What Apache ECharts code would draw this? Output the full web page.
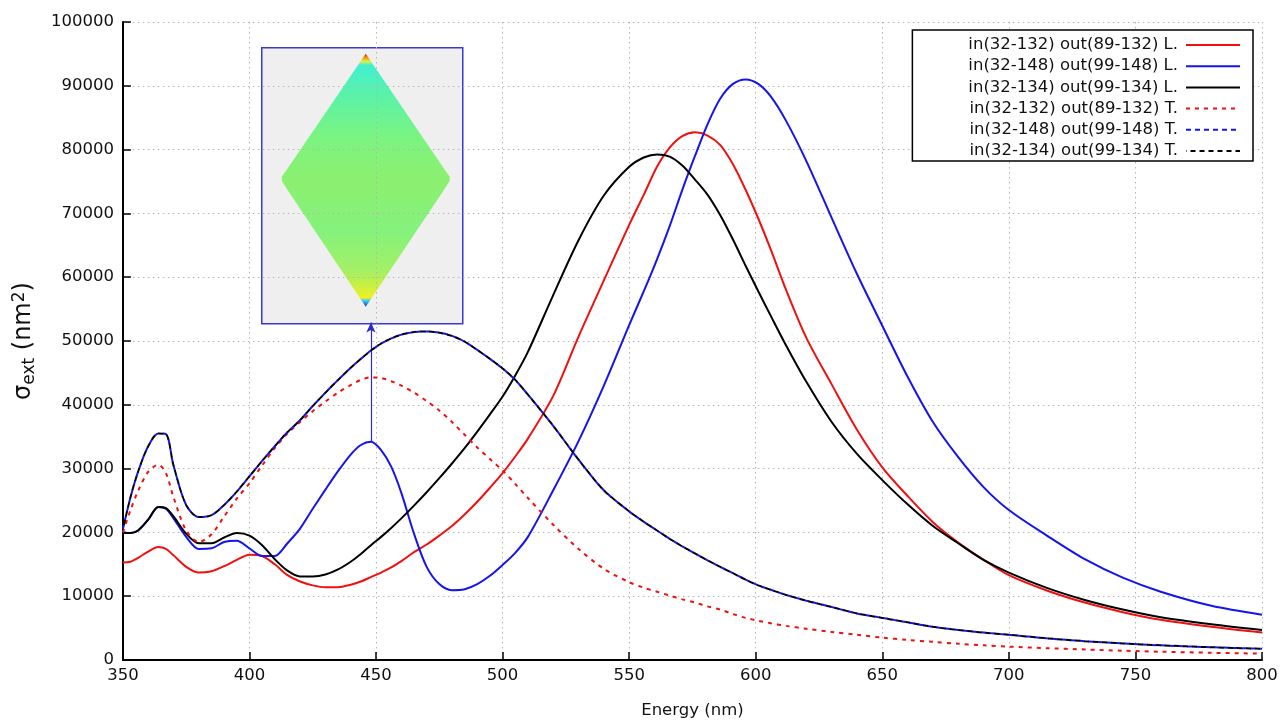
<!DOCTYPE html>
<html>
<head>
<meta charset="utf-8">
<title>Extinction cross-section spectra</title>
<script src="https://cdn.jsdelivr.net/npm/echarts@6/dist/echarts.min.js"></script>
<style>
  html, body { margin: 0; padding: 0; background: #fff; }
  #chart { width: 1281px; height: 724px; }
</style>
</head>
<body>
<div id="chart"></div>
<script>
// Wavelength grid (nm) shared by all spectra
const wavelength = [350,353,356,360,364,367,370,375,380,385,390,395,400,405,410,415,420,
  425,430,435,440,444,448,452,456,460,465,470,475,480,485,490,495,500,505,510,520,
  530,540,550,556,561,566,571,576,581,586,591,596,601,606,612,620,630,640,650,660,
  670,680,690,700,715,730,745,760,780,800];

// Longitudinal excitation, sigma_ext in nm^2
const longRed = [15300,15400,16000,17000,17700,17400,16400,14600,13700,13900,14700,15700,16500,16300,15000,13300,12300,
  11700,11400,11400,11800,12300,13000,13700,14500,15500,16900,18100,19500,21000,22800,24800,27000,29300,31900,34700,41400,
  50700,59500,68200,73100,77300,80300,82100,82700,82200,80700,77700,73700,69200,64300,58000,50500,43200,36100,30200,25700,
  21600,18400,15700,13300,10900,9000,7500,6300,5200,4300];
const longBlue = [20000,19900,20300,22000,24000,23700,22200,19300,17400,17500,18500,18700,17500,16300,16300,18300,20600,
  23700,26700,29600,32200,33700,34200,32900,30300,26200,19800,14600,11900,10950,11100,11900,13200,14900,16800,19300,26600,
  34300,43000,52500,58000,62800,68000,73700,79000,84000,88000,90300,91000,90300,88300,84500,78200,69300,60500,52400,44400,
  37300,31800,27100,23500,19500,15800,12900,10700,8500,7100];
const longBlack = [20000,19900,20300,22000,24000,23800,22500,19800,18300,18300,19200,19900,19500,18000,15800,14000,13100,
  13100,13400,14200,15400,16600,18000,19300,20700,22200,24200,26300,28500,30800,33200,35800,38500,41300,44600,48300,57200,
  65800,72800,77300,78800,79250,78900,77500,75300,72900,69700,65900,61800,57800,53900,49300,43600,37300,32300,28200,24400,
  21000,18300,15700,13700,11300,9400,7900,6700,5600,4700];

// Transverse excitation
const transRed = [20000,23500,26500,29500,30600,29300,25500,20300,18500,19700,22500,25300,27700,30500,33200,35500,37300,
  39000,40500,41900,43100,43900,44300,44200,43700,43000,41900,40600,39100,37300,35300,33300,31500,29700,27600,25400,21200,
  17400,14300,12200,11300,10700,10100,9500,9000,8400,7900,7200,6600,6150,5750,5350,4900,4400,3950,3500,3150,
  2850,2550,2300,2100,1850,1650,1450,1300,1130,1000];
const transBlue = [20500,25500,29500,33500,35500,35400,30500,24300,22400,22700,24300,26400,28800,31200,33500,35700,37600,
  39800,41900,43900,45800,47200,48500,49600,50400,51000,51400,51500,51300,50800,49900,48600,47200,45700,43900,41600,36700,
  31400,26600,23300,21600,20300,19000,17800,16700,15600,14600,13600,12600,11700,11000,10200,9300,8300,7300,6600,5900,
  5200,4700,4300,3950,3400,2950,2600,2300,2000,1770];
const transBlack = transBlue.slice();

const seriesNames = [
  'in(32-132) out(89-132) L.',
  'in(32-148) out(99-148) L.',
  'in(32-134) out(99-134) L.',
  'in(32-132) out(89-132) T.',
  'in(32-148) out(99-148) T.',
  'in(32-134) out(99-134) T.'
];
const xTicks = { min: 350, max: 800, step: 50 };
const yTicks = { min: 0, max: 100000, step: 10000 };

// Arrow from the blue longitudinal resonance up to the inset
const arrowFrom = [448, 34200];
const arrowTo = [448, 52900];

const FONT = 'DejaVu Sans';
const RED = '#f01010', BLUE = '#1414ee', BLACK = '#000000';

const pairs = (ys) => wavelength.map((x, i) => [x, ys[i]]);

function lineSeries(name, ys, color, type, extra) {
  return Object.assign({
    name: name,
    type: 'line',
    data: pairs(ys),
    showSymbol: false,
    symbol: 'none',
    smooth: 0.3,
    lineStyle: { color: color, width: 2, type: type },
    itemStyle: { color: color },
    emphasis: { disabled: true }
  }, extra || {});
}

const chart = echarts.init(document.getElementById('chart'), null, { renderer: 'canvas' });

const option = {
  animation: false,
  backgroundColor: '#ffffff',
  grid: { left: 122, right: 19, top: 22, bottom: 61, containLabel: false },
  legend: {
    orient: 'vertical',
    right: 28,
    top: 30,
    align: 'right',
    data: seriesNames,
    itemWidth: 54,
    itemHeight: 14,
    itemGap: 3.2,
    padding: [6, 12, 1, 56],
    borderColor: '#000',
    borderWidth: 1.5,
    backgroundColor: '#ffffff',
    itemStyle: { opacity: 0 },
    textStyle: { fontFamily: FONT, fontSize: 16.5, color: '#111', lineHeight: 18, padding: [0, 3, 0, 0] },
    selectedMode: false
  },
  xAxis: {
    type: 'value',
    min: xTicks.min, max: xTicks.max, interval: xTicks.step,
    name: 'Energy (nm)',
    nameLocation: 'middle',
    nameGap: 42,
    nameTextStyle: { fontFamily: FONT, fontSize: 16.5, color: '#111' },
    axisLine: { show: true, onZero: false, lineStyle: { color: '#000', width: 2 } },
    axisTick: { show: true, inside: true, length: 8, lineStyle: { color: '#000', width: 1.5 } },
    axisLabel: { fontFamily: FONT, fontSize: 16.5, color: '#111', margin: 7, formatter: v => String(v) },
    splitLine: { show: true, lineStyle: { color: '#b4b4b4', width: 1, type: [1.5, 3.5] } }
  },
  yAxis: {
    type: 'value',
    min: yTicks.min, max: yTicks.max, interval: yTicks.step,
    name: '{s|σ}{sub|ext}{s| (nm}{sup|2}{s|)}',
    nameLocation: 'middle',
    nameRotate: 90,
    nameGap: 74,
    nameTextStyle: {
      fontFamily: FONT, color: '#111',
      rich: {
        s: { fontFamily: FONT, fontSize: 24, color: '#111', lineHeight: 32, verticalAlign: 'middle' },
        sub: { fontFamily: FONT, fontSize: 17, color: '#111', lineHeight: 32, verticalAlign: 'bottom', padding: [0, 0, 2, 0] },
        sup: { fontFamily: FONT, fontSize: 17, color: '#111', lineHeight: 32, verticalAlign: 'top', padding: [3, 0, 0, 0] }
      }
    },
    axisLine: { show: true, onZero: false, lineStyle: { color: '#000', width: 2 } },
    axisTick: { show: true, inside: true, length: 8, lineStyle: { color: '#000', width: 1.5 } },
    axisLabel: { fontFamily: FONT, fontSize: 16.5, color: '#111', margin: 9, formatter: v => String(v) },
    splitLine: { show: true, lineStyle: { color: '#b4b4b4', width: 1, type: [1.5, 3.5] } }
  },
  series: [
    lineSeries(seriesNames[0], longRed, RED, 'solid', { z: 3 }),
    lineSeries(seriesNames[1], longBlue, BLUE, 'solid', {
      z: 4,
      markLine: {
        silent: true,
        symbol: ['none', 'arrow'],
        symbolSize: [7, 10],
        label: { show: false },
        itemStyle: { color: '#2a2ad0' },
        lineStyle: { color: '#2a2ad0', width: 1.2, type: 'solid', opacity: 1 },
        data: [[{ coord: arrowFrom }, { coord: arrowTo }]]
      }
    }),
    lineSeries(seriesNames[2], longBlack, BLACK, 'solid', { z: 5 }),
    lineSeries(seriesNames[3], transRed, RED, [4, 5], { z: 6 }),
    lineSeries(seriesNames[4], transBlue, BLUE, [5, 4], { z: 7 }),
    lineSeries(seriesNames[5], transBlack, BLACK, [5, 4], { z: 8, lineStyle: { color: BLACK, width: 2, type: [5, 4], dashOffset: 4.5 } })
  ],
  graphic: [
    {
      // Inset: field map of the rhombic particle
      type: 'group',
      left: 261, top: 47,
      z: 100,
      children: [
        {
          type: 'rect',
          shape: { x: 0, y: 0, width: 201, height: 276 },
          style: { fill: '#efefef', stroke: '#3a3acc', lineWidth: 1.5 }
        },
        {
          type: 'polygon',
          shape: {
            points: [[104, 6], [183, 122], [188, 129], [188, 133], [183, 141], [104, 259],
                     [25, 141], [20, 133], [20, 129], [25, 122]]
          },
          style: {
            fill: new echarts.graphic.LinearGradient(0, 0, 0, 1, [
              { offset: 0.0, color: '#b01000' },
              { offset: 0.012, color: '#f08000' },
              { offset: 0.03, color: '#e0f040' },
              { offset: 0.045, color: '#40f0d0' },
              { offset: 0.15, color: '#58f2ac' },
              { offset: 0.33, color: '#7af480' },
              { offset: 0.5, color: '#8cf070' },
              { offset: 0.7, color: '#84f27c' },
              { offset: 0.86, color: '#a4f064' },
              { offset: 0.94, color: '#daf034' },
              { offset: 0.965, color: '#f0f020' },
              { offset: 0.975, color: '#40d0f0' },
              { offset: 1.0, color: '#1040c0' }
            ])
          }
        }
      ]
    }
  ]
};

chart.setOption(option);
</script>
</body>
</html>
